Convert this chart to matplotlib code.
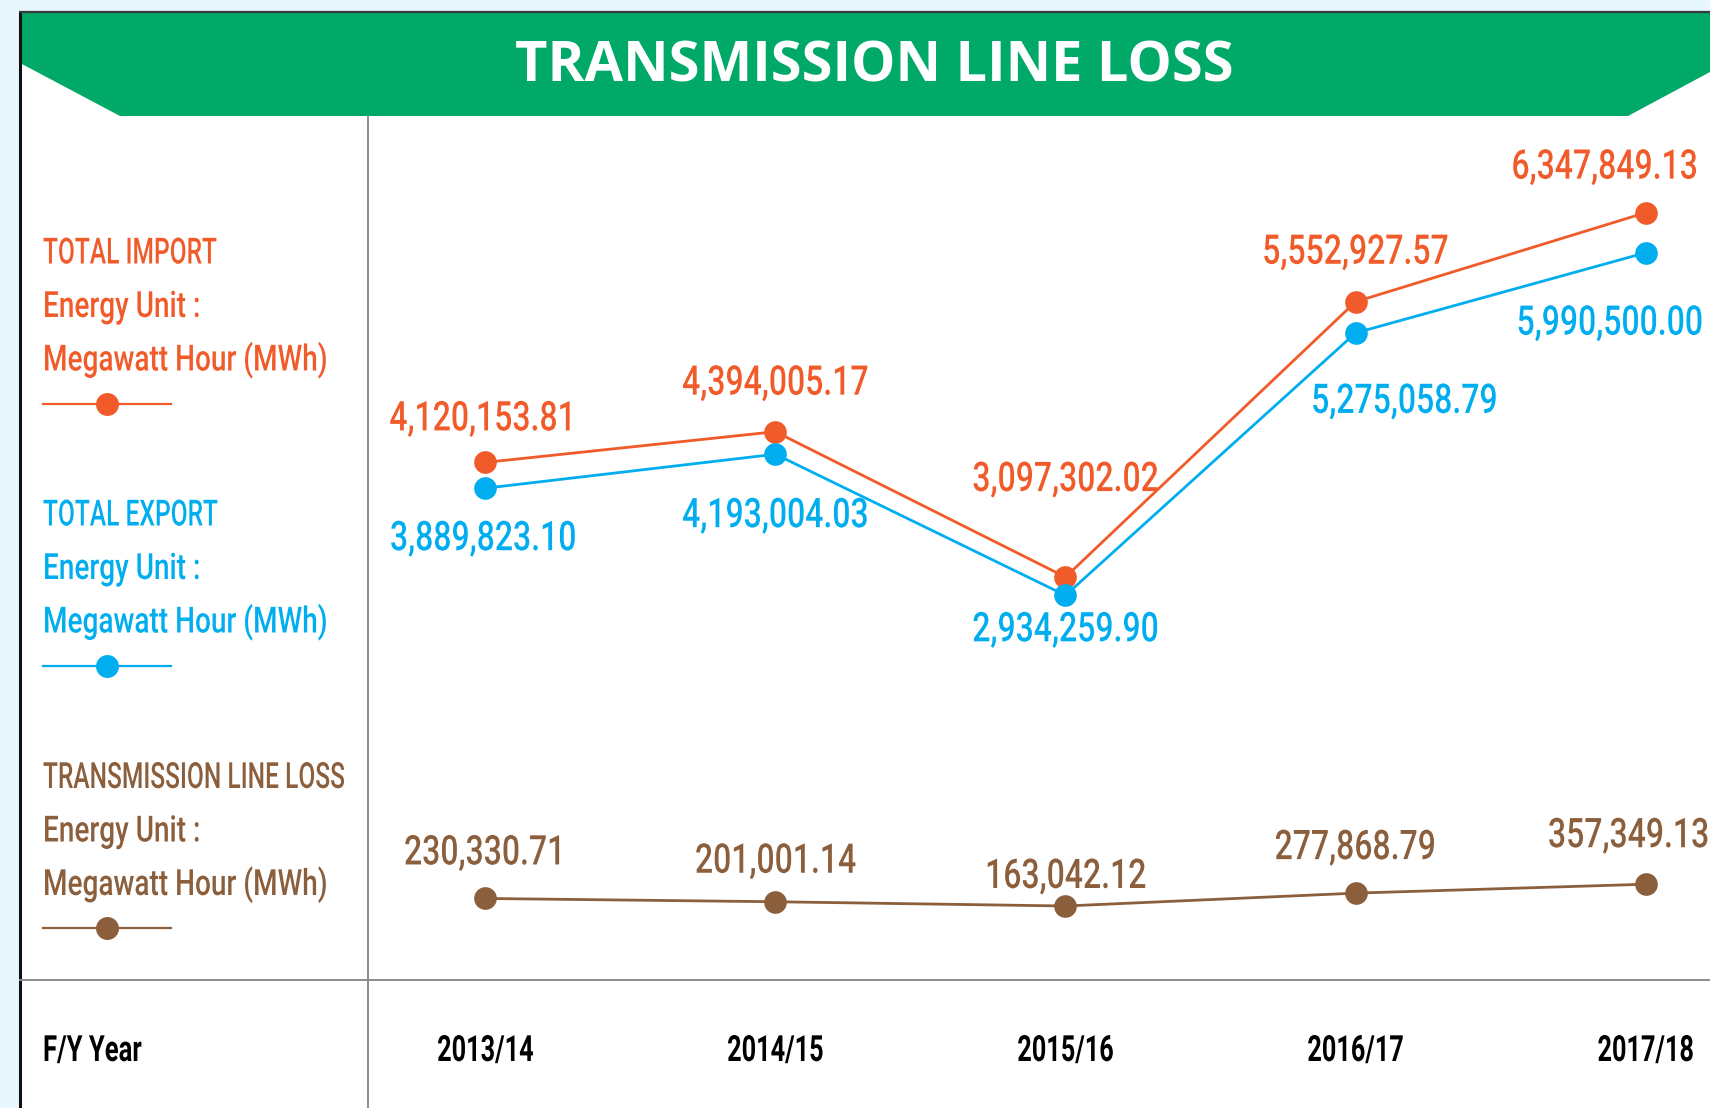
import matplotlib
matplotlib.use("Agg")
import matplotlib.pyplot as plt
from matplotlib.patches import Polygon, Rectangle
from matplotlib.lines import Line2D
from matplotlib.patheffects import AbstractPathEffect
from matplotlib.transforms import Affine2D

# fiscal years and energy figures (MWh)
years = ["2013/14", "2014/15", "2015/16", "2016/17", "2017/18"]
total_import = [4120153.81, 4394005.17, 3097302.02, 5552927.57, 6347849.13]
total_export = [3889823.10, 4193004.03, 2934259.90, 5275058.79, 5990500.00]
line_loss = [230330.71, 201001.14, 163042.12, 277868.79, 357349.13]

ORANGE, BLUE, BROWN = "#f15a29", "#00aeef", "#8b5e3c"
GREEN, SKY, GRID = "#00a968", "#e8f6fd", "#8c8c8c"
FONT = ["Roboto", "DejaVu Sans"]

# label baseline offsets in pixels (dx, dy up) relative to each point
imp_off = [(-2, 32), (0, 37), (0, 86), (0, 38), (-41, 34)]
exp_off = [(-2, -62), (0, -73), (0, -46), (49, -80), (-36, -82)]
loss_off = [(0, 34), (0, 29), (0, 18), (0, 34), (-17, 37)]


class Squeeze(AbstractPathEffect):
    """Draw text glyphs narrowed horizontally (condensed look)."""

    def __init__(self, sx, anchor="center"):
        super().__init__()
        self.sx, self.anchor = sx, anchor

    def draw_path(self, renderer, gc, tpath, affine, rgbFace=None):
        ext = tpath.get_extents()
        cx = 0.0 if self.anchor == "left" else (ext.x0 + ext.x1) / 2
        t = Affine2D().translate(-cx, 0).scale(self.sx, 1).translate(cx, 0) + affine
        renderer.draw_path(gc, tpath, t, rgbFace)


W, H = 1710, 1108
fig = plt.figure(figsize=(W / 100, H / 100), dpi=100, facecolor=SKY)

# frame layer in pixel units
fr = fig.add_axes([0, 0, 1, 1], zorder=0)
fr.set_xlim(0, W); fr.set_ylim(H, 0); fr.axis("off")
fr.add_patch(Rectangle((20, 12), W, H, facecolor="white", edgecolor="none"))
fr.plot([19.5, 19.5], [11, H], color="#111111", lw=2.2, solid_capstyle="butt")
fr.plot([19, W], [12, 12], color="#333a40", lw=1.6, solid_capstyle="butt")
fr.add_patch(Polygon([(20, 12.5), (W, 12.5), (W, 72), (1628, 116), (120, 116), (20, 63)],
                     closed=True, facecolor=GREEN, edgecolor="none"))
fr.text(874, 81.5, "TRANSMISSION LINE LOSS", color="white", fontsize=40.3, fontweight="bold",
        family=["Open Sans", "DejaVu Sans"], ha="center", va="baseline")
fr.plot([368, 368], [116, H], color=GRID, lw=1.4)
fr.plot([20, W], [980, 980], color=GRID, lw=1.4)

# legend blocks on the left: caps heading is squeezed harder than the unit lines
row_fx = [[Squeeze(0.68, "left")], [Squeeze(0.775, "left")], [Squeeze(0.775, "left")]]
blocks = [("TOTAL IMPORT", ORANGE, 263.5), ("TOTAL EXPORT", BLUE, 525.5),
          ("TRANSMISSION LINE LOSS", BROWN, 788)]
for name, col, y0 in blocks:
    for k, s in enumerate([name, "Energy Unit :", "Megawatt Hour (MWh)"]):
        fr.text(43, y0 + k * 53.5, s, color=col, fontsize=26, fontweight="medium",
                family=FONT, va="baseline", path_effects=row_fx[k])
    fr.add_line(Line2D([43, 171], [y0 + 140] * 2, color=col, lw=1.6))
    fr.plot(107, y0 + 140, "o", color=col, ms=15.5)
fr.text(43, 1061, "F/Y Year", color="black", fontsize=26, fontweight="bold",
        family=FONT, va="baseline", path_effects=[Squeeze(0.71, "left")])

# data layer
ax = fig.add_axes([368 / W, (H - 980) / H, (W - 368) / W, (980 - 116) / H], zorder=1)
ax.patch.set_alpha(0)
ax.axis("off")
ax.set_xlim(-0.4043, 4.2217)
ax.set_ylim(-0.497e6, 7.210e6)
x = range(len(years))

value_fx = [Squeeze(0.78)]
series = [(total_import, ORANGE, imp_off), (total_export, BLUE, exp_off),
          (line_loss, BROWN, loss_off)]
for vals, col, offs in series:
    ax.plot(x, vals, color=col, lw=2.0, marker="o", ms=15.3, clip_on=False)
    for i, v in enumerate(vals):
        dx, dy = offs[i]
        ax.annotate(f"{v:,.2f}", (i, v), xytext=(dx * 0.72, dy * 0.72),
                    textcoords="offset points", ha="center", va="baseline",
                    color=col, fontsize=29.5, fontweight="medium", family=FONT,
                    annotation_clip=False, path_effects=value_fx)

# year labels under the divider
tick_fx = [Squeeze(0.70)]
for i, yr in enumerate(years):
    ax.annotate(yr, (i, 0), xycoords=("data", "figure fraction"),
                xytext=(0, (H - 1061) * 0.72), textcoords="offset points",
                ha="center", va="baseline", fontsize=26, fontweight="bold",
                family=FONT, color="black", path_effects=tick_fx)

fig.savefig("out.png", dpi=100, facecolor=SKY)
